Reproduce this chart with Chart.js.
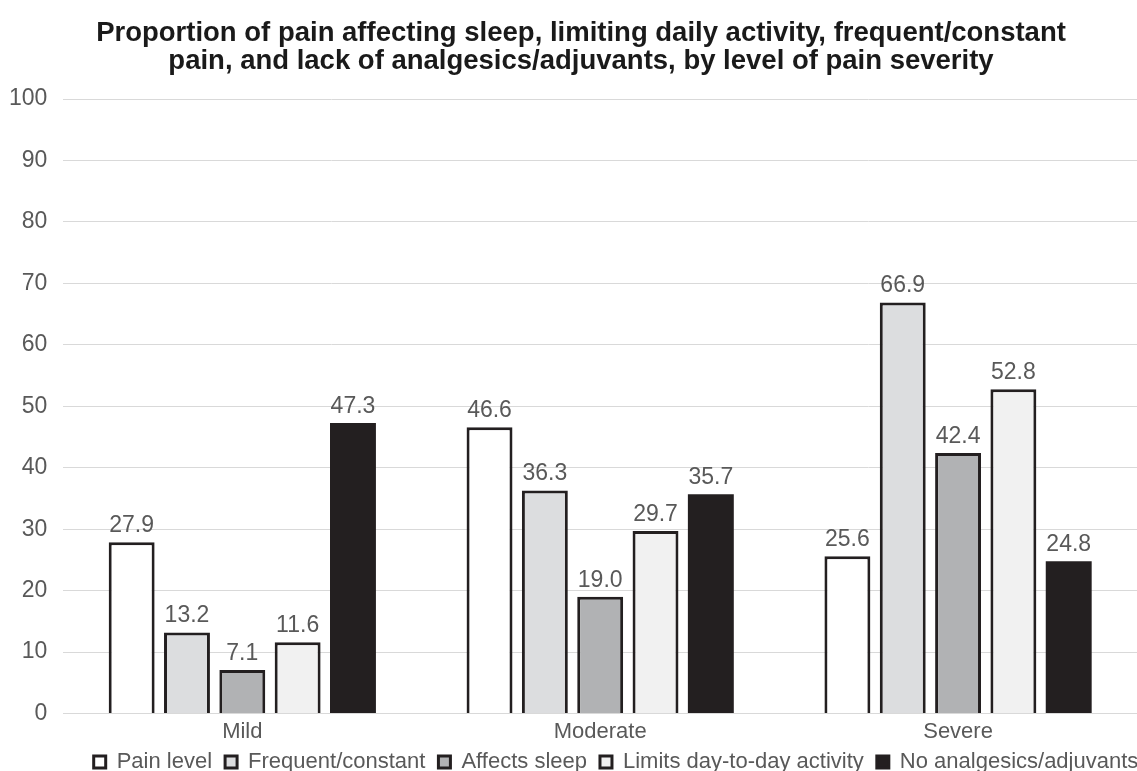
<!DOCTYPE html>
<html>
<head>
<meta charset="utf-8">
<script src="https://cdn.jsdelivr.net/npm/chart.js@4/dist/chart.umd.min.js"></script>
<style>
  html, body { margin: 0; padding: 0; background: #fff; }
  #wrap { width: 1137px; height: 771px; }
</style>
</head>
<body>
<div id="wrap"><canvas id="my_canvas" width="1137" height="771"></canvas></div>
<script>
const categories = ['Mild', 'Moderate', 'Severe'];
const series_names = ['Pain level', 'Frequent/constant', 'Affects sleep', 'Limits day-to-day activity', 'No analgesics/adjuvants'];
const pain_level = [27.9, 46.6, 25.6];
const frequent_constant = [13.2, 36.3, 66.9];
const affects_sleep = [7.1, 19.0, 42.4];
const limits_activity = [11.6, 29.7, 52.8];
const no_analgesics = [47.3, 35.7, 24.8];
const y_ticks = [0, 10, 20, 30, 40, 50, 60, 70, 80, 90, 100];

const fills = ['#ffffff', '#dcdddf', '#b1b2b4', '#f1f1f1', '#231f20'];
const all_values = [pain_level, frequent_constant, affects_sleep, limits_activity, no_analgesics];
const font_family = '"Liberation Sans", Arial, sans-serif';

const valueLabels = {
    id: 'valueLabels',
    afterDatasetsDraw(chart){
        const ctx = chart.ctx;
        ctx.save();
        ctx.font = '23px ' + font_family;
        ctx.fillStyle = '#595959';
        ctx.textAlign = 'center';
        ctx.textBaseline = 'bottom';
        chart.data.datasets.forEach((ds, i) => {
            chart.getDatasetMeta(i).data.forEach((bar, j) => {
                ctx.fillText(ds.data[j].toFixed(1), bar.x, bar.y - 5);
            });
        });
        ctx.restore();
    }
};

// the original figure was cropped on the right, so title and legend sit off-centre
const shiftBlocks = {
    id: 'shiftBlocks',
    afterLayout(chart){
        chart.titleBlock.left += 14;
        chart.titleBlock.right += 14;
        chart.legend.left += 49;
        chart.legend.right += 49;
    }
};

const canvas_element = document.getElementById('my_canvas').getContext('2d');

const the_chart = new Chart(canvas_element, {
    type: 'bar',
    data: {
        labels: categories,
        datasets: series_names.map((name, i) => ({
            label: name,
            data: all_values[i],
            backgroundColor: fills[i],
            borderColor: '#231f20',
            borderWidth: i === 4 ? 0 : 3,
            categoryPercentage: 0.773,
            barPercentage: 0.83
        }))
    },
    options: {
        responsive: false,
        animation: false,
        devicePixelRatio: 1,
        layout: { padding: { left: -7, right: -4, top: 14, bottom: -12 } },
        plugins: {
            title: {
                display: true,
                text: ['Proportion of pain affecting sleep, limiting daily activity, frequent/constant',
                       'pain, and lack of analgesics/adjuvants, by level of pain severity'],
                color: '#1a1a1a',
                font: { family: font_family, size: 27.5, weight: 'bold', lineHeight: 1.02 },
                padding: { top: 5, bottom: 24 }
            },
            legend: {
                position: 'bottom',
                labels: {
                    color: '#595959',
                    font: { family: font_family, size: 22 },
                    boxWidth: 12,
                    boxHeight: 12,
                    padding: 13,
                    generateLabels(chart){
                        return chart.data.datasets.map((ds, i) => ({
                            text: ds.label,
                            fillStyle: fills[i],
                            strokeStyle: '#231f20',
                            lineWidth: 3,
                            fontColor: '#595959',
                            datasetIndex: i
                        }));
                    }
                }
            },
            tooltip: { enabled: false }
        },
        scales: {
            y: {
                min: 0,
                max: 100,
                afterBuildTicks(axis){
                    axis.ticks = y_ticks.map(v => ({ value: v }));
                },
                ticks: {
                    color: '#595959',
                    padding: 16,
                    font: { family: font_family, size: 23 }
                },
                grid: { color: '#d9d9d9', lineWidth: 1, drawTicks: false },
                border: { display: false }
            },
            x: {
                afterFit(axis){
                    axis.height -= 12;
                },
                grid: { display: false, drawTicks: false },
                border: { display: true, color: '#d9d9d9' },
                ticks: {
                    color: '#595959',
                    padding: 5,
                    font: { family: font_family, size: 22 }
                }
            }
        }
    },
    plugins: [valueLabels, shiftBlocks]
});
</script>
</body>
</html>
